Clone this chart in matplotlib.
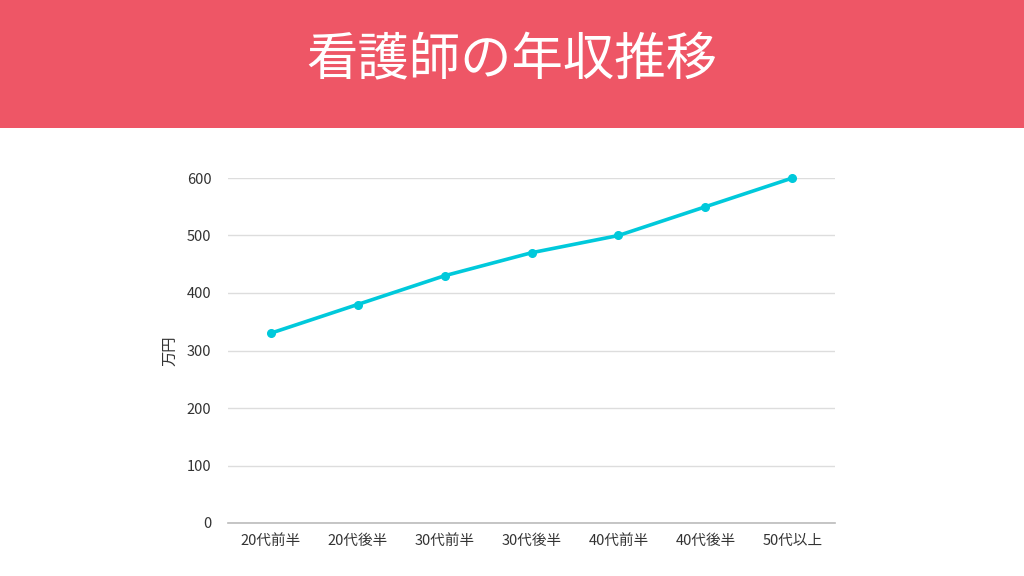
import matplotlib.pyplot as plt
from matplotlib.patches import Rectangle

plt.rcParams['font.family'] = ['Noto Sans CJK JP', 'DejaVu Sans']

title = '看護師の年収推移'
ages = ['20代前半', '20代後半', '30代前半', '30代後半', '40代前半', '40代後半', '50代以上']
salary = [330, 380, 430, 470, 500, 550, 600]
y_ticks = [0, 100, 200, 300, 400, 500, 600]

fig = plt.figure(figsize=(10.24, 5.76), dpi=100)
fig.patch.set_facecolor('white')

# header band
fig.patches.append(Rectangle((0, 1 - 128 / 576), 1, 128 / 576, transform=fig.transFigure,
                             facecolor='#EE5666', edgecolor='none', zorder=0))
fig.text(0.5, 1 - 61 / 576, title, ha='center', va='center', color='white', fontsize=37)

ax = fig.add_axes([228 / 1024, 1 - 523 / 576, 607 / 1024, 345 / 576])
x = range(len(ages))
ax.plot(x, salary, color='#00C9DB', linewidth=2.6, marker='o', markersize=5.5,
        clip_on=False, zorder=3)

ax.set_xlim(-0.49, len(ages) - 0.51)
ax.set_ylim(0, 600)
ax.set_xticks(list(x))
ax.set_xticklabels(ages)
ax.set_yticks(y_ticks)
ax.set_ylabel('万円', fontsize=11, color='#333333', labelpad=6)

ax.grid(axis='y', color='#DDDDDD', linewidth=1)
ax.set_axisbelow(True)
for side in ['top', 'right', 'left']:
    ax.spines[side].set_visible(False)
ax.spines['bottom'].set_color('#BBBBBB')
ax.spines['bottom'].set_linewidth(1.2)
ax.tick_params(axis='both', length=0, labelsize=10.5, colors='#333333')
ax.tick_params(axis='x', pad=8)
ax.tick_params(axis='y', pad=12)

fig.savefig('out.png', dpi=100)
